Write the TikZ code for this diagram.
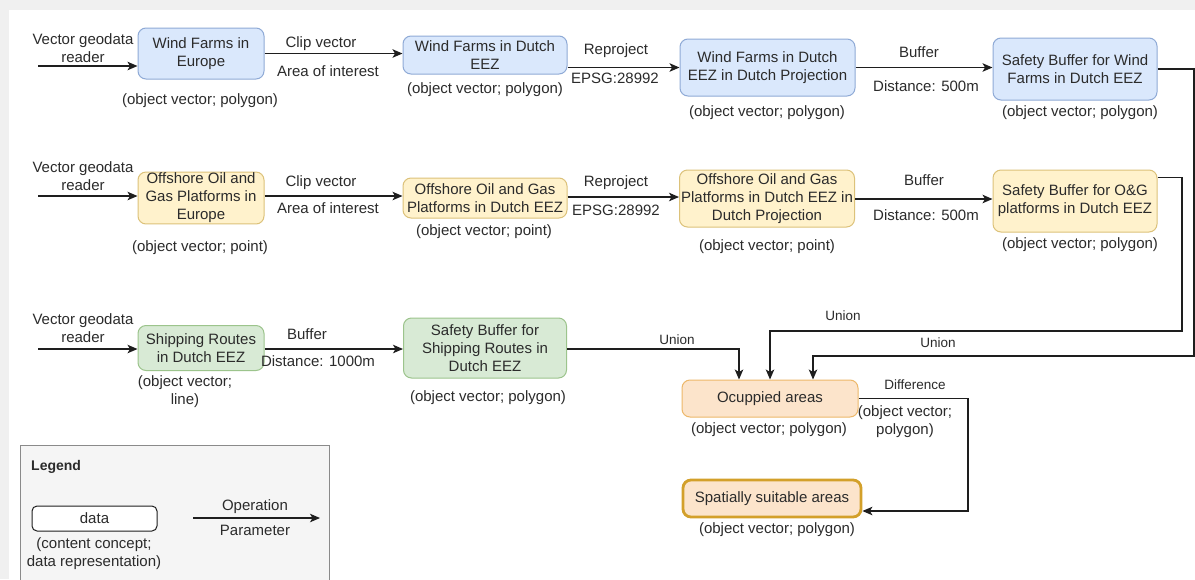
\documentclass[tikz,border=0pt]{standalone}
\usepackage{fontspec}
\setmainfont{Liberation Sans}
\usetikzlibrary{arrows.meta}

\definecolor{txt}{HTML}{2B2B2B}
\definecolor{lin}{HTML}{1E1E1E}
\definecolor{bluefill}{HTML}{DAE8FC}
\definecolor{blueline}{HTML}{8FAAD6}
\definecolor{yelfill}{HTML}{FFF2CC}
\definecolor{yelline}{HTML}{DCC27A}
\definecolor{grnfill}{HTML}{D8EAD5}
\definecolor{grnline}{HTML}{9CC48C}
\definecolor{orafill}{HTML}{FCE4CB}
\definecolor{oraline}{HTML}{EDB86A}
\definecolor{suitline}{HTML}{D3A02A}
\definecolor{legfill}{HTML}{F5F5F5}
\definecolor{legline}{HTML}{8A8A8A}
\definecolor{frame}{HTML}{F0F0F0}

\tikzset{
  txtstyle/.style={font=\fontsize{15}{18}\selectfont, text=txt},
  smalltxt/.style={font=\fontsize{13.5}{16}\selectfont, text=txt},
  databox/.style={txtstyle, rounded corners=8pt, line width=1pt, align=center,
                  inner sep=1pt},
  bluebox/.style={databox, draw=blueline, fill=bluefill},
  yelbox/.style={databox, draw=yelline, fill=yelfill},
  grnbox/.style={databox, draw=grnline, fill=grnfill},
  orabox/.style={databox, draw=oraline, fill=orafill},
  suitbox/.style={databox, draw=suitline, fill=orafill, line width=2.8pt},
  lab/.style={txtstyle, align=center, inner sep=1pt},
  oplab/.style={txtstyle, align=center, inner sep=1pt, fill=white},
  flow/.style={draw=lin, line width=1.2pt,
               -{Stealth[length=10pt,width=8.5pt,inset=2.5pt]}},
}

\begin{document}
\begin{tikzpicture}[x=1pt,y=-1pt]
  % canvas
  \useasboundingbox (0,0) rectangle (1195,579);
  \clip (0,0) rectangle (1195,579);
  \fill[frame] (0,0) rectangle (1195,579);
  \fill[white] (9,10) rectangle (1195,579);

  % ---- row 1: wind farms ----
  \node[bluebox, minimum width=126, minimum height=51] (wfe) at (201,53.5) {Wind Farms in\\Europe};
  \node[bluebox, minimum width=164, minimum height=38] (wfd) at (485,55) {Wind Farms in Dutch\\EEZ};
  \node[bluebox, minimum width=175, minimum height=57] (wfp) at (767.5,67.5) {Wind Farms in Dutch\\EEZ in Dutch Projection};
  \node[bluebox, minimum width=164, minimum height=62] (wfs) at (1075,69) {Safety Buffer for Wind\\Farms in Dutch EEZ};

  \node[lab] (wfeL) at (200,101) {(object vector; polygon)};
  \node[lab] (wfdL) at (485,90) {(object vector; polygon)};
  \node[lab] (wfpL) at (767,113) {(object vector; polygon)};
  \node[lab] (wfsL) at (1080,113) {(object vector; polygon)};

  \coordinate (in1) at (38,66);
  \draw[flow] (in1) -- (in1 -| wfe.west);
  \node[lab] (rd1) at (83,48) {Vector geodata\\reader};
  \draw[flow] (wfe.east) -- (wfe.east -| wfd.west);
  \node[oplab] (op1a) at (321,44) {Clip vector};
  \node[oplab] (op1b) at (328,71) {Area of interest};
  \draw[flow] (wfp.west -| wfd.east) -- (wfp.west);
  \node[oplab] (op2a) at (616,51) {Reproject};
  \node[oplab] (op2b) at (615,78) {EPSG:28992};
  \draw[flow] (wfp.east) -- (wfp.east -| wfs.west);
  \node[oplab] (op3a) at (919,52) {Buffer};
  \node[oplab] (op3b) at (926,86) {Distance: 500m};

  % ---- row 2: oil and gas platforms ----
  \node[yelbox, minimum width=126, minimum height=50] (oge) at (201,198) {Offshore Oil and\\Gas Platforms in\\Europe};
  \node[yelbox, minimum width=164, minimum height=40] (ogd) at (485,198) {Offshore Oil and Gas\\Platforms in Dutch EEZ};
  \node[yelbox, minimum width=175, minimum height=57] (ogp) at (767,198.5) {Offshore Oil and Gas\\Platforms in Dutch EEZ in\\Dutch Projection};
  \node[yelbox, minimum width=164, minimum height=62] (ogs) at (1075,201) {Safety Buffer for O\&G\\platforms in Dutch EEZ};

  \node[lab] (ogeL) at (200,248) {(object vector; point)};
  \node[lab] (ogdL) at (484,232) {(object vector; point)};
  \node[lab] (ogpL) at (767,247) {(object vector; point)};
  \node[lab] (ogsL) at (1080,245) {(object vector; polygon)};

  \coordinate (in2) at (38,196);
  \draw[flow] (in2) -- (in2 -| oge.west);
  \node[lab] (rd2) at (83,176) {Vector geodata\\reader};
  \draw[flow] (in2 -| oge.east) -- (in2 -| ogd.west);
  \node[oplab] (op4a) at (321,183) {Clip vector};
  \node[oplab] (op4b) at (328,208) {Area of interest};
  \draw[flow] (ogd.east |- 0,197) -- (ogp.west |- 0,197);
  \node[oplab] (op5a) at (616,183) {Reproject};
  \node[oplab] (op5b) at (616,210) {EPSG:28992};
  \draw[flow] (ogp.east |- 0,199) -- (ogs.west |- 0,199);
  \node[oplab] (op6a) at (924,180) {Buffer};
  \node[oplab] (op6b) at (926,215) {Distance: 500m};

  % ---- row 3: shipping routes ----
  \node[grnbox, minimum width=126, minimum height=45] (she) at (201,348) {Shipping Routes\\in Dutch EEZ};
  \node[grnbox, minimum width=163, minimum height=60] (shs) at (485,348) {Safety Buffer for\\Shipping Routes in\\Dutch EEZ};

  \node[lab] (sheL) at (185,392) {(object vector;\\line)};
  \node[lab] (shsL) at (488,398) {(object vector; polygon)};

  \coordinate (in3) at (38,349);
  \draw[flow] (in3) -- (in3 -| she.west);
  \node[lab] (rd3) at (83,328) {Vector geodata\\reader};
  \draw[flow] (in3 -| she.east) -- (in3 -| shs.west);
  \node[lab] (op7a) at (307,334) {Buffer};
  \node[lab] (op7b) at (318,361) {Distance: 1000m};

  % ---- results ----
  \node[orabox, minimum width=176, minimum height=37] (occ) at (770,398.5) {Ocuppied areas};
  \node[lab] (occL) at (769,430) {(object vector; polygon)};
  \node[suitbox, minimum width=178, minimum height=37] (suit) at (772,498.5) {Spatially suitable areas};
  \node[lab] (suitL) at (777,530) {(object vector; polygon)};

  % unions into occupied areas
  \draw[flow] (shs.east |- 0,349) -| ([xshift=-31pt]occ.north);
  \node[smalltxt, inner sep=1pt] (un1) at (677,340) {Union};
  \coordinate (r2) at (1182,331);
  \draw[flow] ([yshift=-8pt]ogs.north east) -| (r2) -| (occ.north);
  \node[smalltxt, inner sep=1pt] (un2) at (843,316) {Union};
  \coordinate (r1) at (1194,356);
  \draw[flow] (wfs.east) -| (r1) -| ([xshift=43pt]occ.north);
  \node[smalltxt, inner sep=1pt] (un3) at (938,343) {Union};

  % difference into suitable areas
  \coordinate (r4) at (968,511);
  \draw[flow] (occ.east) -| (r4) -- (r4 -| suit.east);
  \node[smalltxt, inner sep=1pt] (dif) at (915,385) {Difference};
  \node[lab] (difL) at (905,422) {(object vector;\\polygon)};

  % ---- legend ----
  \draw[legline, fill=legfill, line width=1pt] (20,445) rectangle (329,600);
  \node[txtstyle, font=\fontsize{14}{16}\selectfont\bfseries, anchor=west, inner sep=0pt] (legT) at (31,467) {Legend};
  \node[txtstyle, draw=lin, fill=white, rounded corners=5pt, line width=1pt,
        minimum width=125, minimum height=25, inner sep=0pt] (legD) at (94.5,518.5) {data};
  \node[lab] (legDL) at (94,554) {(content concept;\\data representation)};
  \coordinate (la) at (193,518);
  \coordinate (lb) at (320,518);
  \draw[flow] (la) -- (lb);
  \node[lab] (legO) at (255,507) {Operation};
  \node[lab] (legP) at (255,530) {Parameter};
\end{tikzpicture}
\end{document}
